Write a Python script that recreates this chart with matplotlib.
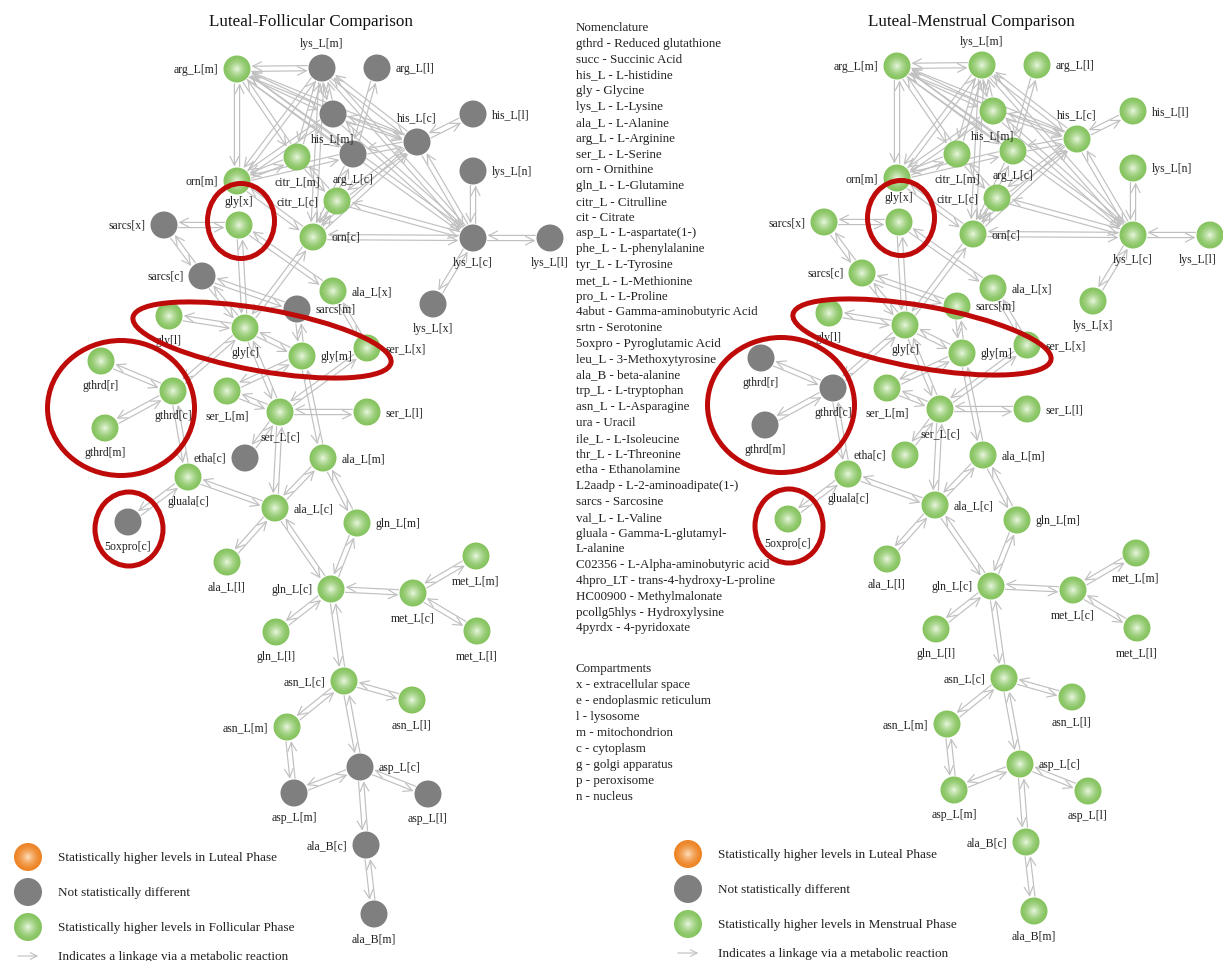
import numpy as np
import matplotlib
matplotlib.use("Agg")
import matplotlib.pyplot as plt
from matplotlib.patches import Circle, Ellipse, FancyArrowPatch

plt.rcParams['font.family'] = ['Liberation Serif', 'DejaVu Serif']

# ---------------- data ----------------
titles = ["Luteal-Follicular Comparison", "Luteal-Menstrual Comparison"]

nodes = ["arg_L[m]", "lys_L[m]", "arg_L[l]", "his_L[m]", "arg_L[c]", "his_L[c]", "his_L[l]",
         "lys_L[n]", "citr_L[m]", "orn[m]", "citr_L[c]", "gly[x]", "sarcs[x]", "orn[c]",
         "lys_L[c]", "lys_L[l]", "sarcs[c]", "ala_L[x]", "lys_L[x]", "sarcs[m]", "gly[l]",
         "gly[c]", "gly[m]", "ser_L[x]", "gthrd[r]", "gthrd[c]", "gthrd[m]", "ser_L[m]",
         "ser_L[c]", "ser_L[l]", "etha[c]", "gluala[c]", "ala_L[m]", "ala_L[c]", "gln_L[m]",
         "5oxpro[c]", "ala_L[l]", "gln_L[c]", "met_L[c]", "met_L[m]", "met_L[l]", "gln_L[l]",
         "asn_L[c]", "asn_L[l]", "asn_L[m]", "asp_L[c]", "asp_L[m]", "asp_L[l]", "ala_B[c]",
         "ala_B[m]"]

# status per comparison: "up" = higher in follicular/menstrual phase, "ns" = not different
grey_follicular = ["lys_L[m]", "arg_L[l]", "his_L[m]", "arg_L[c]", "his_L[c]", "his_L[l]",
                   "lys_L[n]", "lys_L[c]", "lys_L[l]", "sarcs[x]", "sarcs[c]", "sarcs[m]",
                   "lys_L[x]", "5oxpro[c]", "etha[c]", "asp_L[c]", "asp_L[m]", "asp_L[l]",
                   "ala_B[c]", "ala_B[m]"]
grey_menstrual = ["gthrd[r]", "gthrd[c]", "gthrd[m]"]
status_follicular = ["ns" if n in grey_follicular else "up" for n in nodes]
status_menstrual = ["ns" if n in grey_menstrual else "up" for n in nodes]

edges = [("arg_L[m]", "lys_L[m]"), ("arg_L[m]", "orn[m]"), ("arg_L[m]", "arg_L[c]"),
         ("arg_L[m]", "his_L[c]"), ("arg_L[m]", "lys_L[c]"), ("arg_L[m]", "citr_L[m]"),
         ("arg_L[m]", "his_L[m]"),
         ("lys_L[m]", "orn[m]"), ("lys_L[m]", "citr_L[m]"), ("lys_L[m]", "his_L[m]"),
         ("lys_L[m]", "his_L[c]"), ("lys_L[m]", "lys_L[c]"), ("lys_L[m]", "orn[c]"),
         ("arg_L[l]", "arg_L[c]"),
         ("his_L[m]", "orn[m]"), ("his_L[m]", "his_L[c]"), ("his_L[m]", "lys_L[c]"),
         ("his_L[c]", "his_L[l]"), ("his_L[c]", "arg_L[c]"), ("his_L[c]", "orn[c]"),
         ("his_L[c]", "lys_L[c]"), ("his_L[c]", "citr_L[c]"),
         ("lys_L[n]", "lys_L[c]"), ("lys_L[c]", "lys_L[l]"), ("lys_L[c]", "lys_L[x]"),
         ("lys_L[c]", "orn[c]"), ("lys_L[c]", "citr_L[c]"),
         ("citr_L[m]", "orn[m]"), ("citr_L[m]", "citr_L[c]"),
         ("citr_L[c]", "orn[c]"), ("arg_L[c]", "orn[c]"), ("arg_L[c]", "orn[m]"),
         ("orn[m]", "orn[c]"),
         ("sarcs[x]", "gly[x]"), ("sarcs[x]", "sarcs[c]"),
         ("gly[x]", "gly[c]"), ("gly[x]", "ala_L[x]"),
         ("sarcs[c]", "gly[c]"), ("sarcs[c]", "sarcs[m]"), ("sarcs[m]", "gly[m]"),
         ("orn[c]", "gly[c]"), ("ala_L[x]", "ser_L[x]"),
         ("gly[l]", "gly[c]"), ("gly[c]", "gly[m]"), ("gly[c]", "ser_L[c]"),
         ("gly[c]", "gthrd[c]"), ("gly[m]", "ser_L[m]"), ("ser_L[x]", "ser_L[c]"),
         ("gly[m]", "ala_L[m]"),
         ("gthrd[r]", "gthrd[c]"), ("gthrd[m]", "gthrd[c]"), ("gthrd[c]", "gluala[c]"),
         ("ser_L[m]", "ser_L[c]"), ("ser_L[c]", "ser_L[l]"), ("ser_L[c]", "etha[c]"),
         ("ser_L[c]", "ala_L[c]"),
         ("gluala[c]", "5oxpro[c]"), ("gluala[c]", "ala_L[c]"),
         ("ala_L[c]", "ala_L[m]"), ("ala_L[c]", "ala_L[l]"), ("ala_L[c]", "gln_L[c]"),
         ("ala_L[m]", "gln_L[m]"), ("gln_L[m]", "gln_L[c]"), ("gln_L[c]", "gln_L[l]"),
         ("gln_L[c]", "met_L[c]"), ("met_L[c]", "met_L[m]"), ("met_L[c]", "met_L[l]"),
         ("gln_L[c]", "asn_L[c]"), ("asn_L[c]", "asn_L[l]"), ("asn_L[c]", "asn_L[m]"),
         ("asn_L[c]", "asp_L[c]"), ("asn_L[m]", "asp_L[m]"), ("asp_L[m]", "asp_L[c]"),
         ("asp_L[c]", "asp_L[l]"), ("asp_L[c]", "ala_B[c]"), ("ala_B[c]", "ala_B[m]")]

nomenclature = ["Nomenclature", "gthrd - Reduced glutathione", "succ - Succinic Acid",
                "his_L - L-histidine", "gly - Glycine", "lys_L - L-Lysine", "ala_L - L-Alanine",
                "arg_L - L-Arginine", "ser_L - L-Serine", "orn - Ornithine",
                "gln_L - L-Glutamine", "citr_L - Citrulline", "cit - Citrate",
                "asp_L - L-aspartate(1-)", "phe_L - L-phenylalanine", "tyr_L - L-Tyrosine",
                "met_L - L-Methionine", "pro_L - L-Proline", "4abut - Gamma-aminobutyric Acid",
                "srtn - Serotonine", "5oxpro - Pyroglutamic Acid", "leu_L - 3-Methoxytyrosine",
                "ala_B - beta-alanine", "trp_L - L-tryptophan", "asn_L - L-Asparagine",
                "ura - Uracil", "ile_L - L-Isoleucine", "thr_L - L-Threonine",
                "etha - Ethanolamine", "L2aadp - L-2-aminoadipate(1-)", "sarcs - Sarcosine",
                "val_L - L-Valine", "gluala - Gamma-L-glutamyl-", "L-alanine",
                "C02356 - L-Alpha-aminobutyric acid", "4hpro_LT - trans-4-hydroxy-L-proline",
                "HC00900 - Methylmalonate", "pcollg5hlys - Hydroxylysine", "4pyrdx - 4-pyridoxate"]
compartments = ["Compartments", "x - extracellular space", "e - endoplasmic reticulum",
                "l - lysosome", "m - mitochondrion", "c - cytoplasm", "g - golgi apparatus",
                "p - peroxisome", "n - nucleus"]

legend_follicular = ["Statistically higher levels in Luteal Phase", "Not statistically different",
                     "Statistically higher levels in Follicular Phase",
                     "Indicates a linkage via a metabolic reaction"]
legend_menstrual = ["Statistically higher levels in Luteal Phase", "Not statistically different",
                    "Statistically higher levels in Menstrual Phase",
                    "Indicates a linkage via a metabolic reaction"]

# ---------------- layout (pixel positions of the left network) ----------------
layout = {
    "arg_L[m]": (237, 70, "l"), "lys_L[m]": (322, 69, "a"), "arg_L[l]": (377, 69, "r"),
    "his_L[m]": (333, 115, "b"), "arg_L[c]": (353, 155, "b"), "his_L[c]": (417, 143, "a"),
    "his_L[l]": (473, 115, "r"), "lys_L[n]": (473, 172, "r"), "citr_L[m]": (297, 158, "b"),
    "orn[m]": (237, 182, "l"), "citr_L[c]": (337, 202, "l"), "gly[x]": (239, 226, "a"),
    "sarcs[x]": (164, 226, "l"), "orn[c]": (313, 238, "r"), "lys_L[c]": (473, 239, "b"),
    "lys_L[l]": (550, 239, "b"), "sarcs[c]": (202, 277, "l"), "ala_L[x]": (333, 292, "r"),
    "lys_L[x]": (433, 305, "b"), "sarcs[m]": (297, 310, "r"), "gly[l]": (169, 317, "b"),
    "gly[c]": (245, 329, "b"), "gly[m]": (302, 357, "r"), "ser_L[x]": (367, 349, "r"),
    "gthrd[r]": (101, 362, "b"), "gthrd[c]": (173, 392, "b"), "gthrd[m]": (105, 429, "b"),
    "ser_L[m]": (227, 392, "b"), "ser_L[c]": (280, 413, "b"), "ser_L[l]": (367, 413, "r"),
    "etha[c]": (245, 459, "l"), "gluala[c]": (188, 478, "b"), "ala_L[m]": (323, 459, "r"),
    "ala_L[c]": (275, 509, "r"), "gln_L[m]": (357, 524, "r"), "5oxpro[c]": (128, 523, "b"),
    "ala_L[l]": (227, 563, "b"), "gln_L[c]": (331, 590, "l"), "met_L[c]": (413, 594, "b"),
    "met_L[m]": (476, 557, "b"), "met_L[l]": (477, 632, "b"), "gln_L[l]": (276, 633, "b"),
    "asn_L[c]": (344, 682, "l"), "asn_L[l]": (412, 701, "b"), "asn_L[m]": (287, 728, "l"),
    "asp_L[c]": (360, 768, "r"), "asp_L[m]": (294, 794, "b"), "asp_L[l]": (428, 795, "b"),
    "ala_B[c]": (366, 846, "l"), "ala_B[m]": (374, 915, "b"),
}
panel_offsets = [(0, 0), (660, -3)]
R = 13.5

GREEN_EDGE = np.array([0.53, 0.77, 0.38])
GREEN_CENTER = np.array([0.94, 0.98, 0.91])
ORANGE_EDGE = np.array([0.93, 0.52, 0.15])
ORANGE_CENTER = np.array([1.0, 0.90, 0.78])
GREY = "#7f7f7f"
EDGE_COL = "#c0c0c0"
RED = "#bf0a0a"

fig = plt.figure(figsize=(12.23, 9.62), dpi=100)
ax = fig.add_axes([0, 0, 1, 1])
ax.set_xlim(0, 1223)
ax.set_ylim(962, 0)
ax.axis("off")


def sphere(x, y, r, edge, center, z=5):
    steps = 14
    for i in range(steps):
        t = 1 - i / steps
        w = (1 - t) ** 1.6
        col = edge + (center - edge) * w
        ax.add_patch(Circle((x, y), r * t, facecolor=col, edgecolor="none", zorder=z))


def draw_node(x, y, kind):
    if kind == "up":
        sphere(x, y, R, GREEN_EDGE, GREEN_CENTER)
    else:
        ax.add_patch(Circle((x, y), R, facecolor=GREY, edgecolor="none", zorder=5))


def draw_edge(p1, p2):
    p1 = np.array(p1, float)
    p2 = np.array(p2, float)
    d = p2 - p1
    L = np.hypot(*d)
    u = d / L
    n = np.array([-u[1], u[0]])
    off = 2.6
    for sgn, (a, b) in ((1, (p1, p2)), (-1, (p2, p1))):
        uu = (b - a) / L
        s = a + uu * (R + 1) + n * off * sgn
        e = b - uu * (R + 1) + n * off * sgn
        ax.add_patch(FancyArrowPatch(s, e, arrowstyle="->,head_length=0.7,head_width=0.35",
                                     mutation_scale=9, color=EDGE_COL, lw=0.85,
                                     shrinkA=0, shrinkB=0, zorder=2))


label_kw = dict(fontsize=8.5, color="#222222", zorder=7)
for panel, (status, off) in enumerate(zip([status_follicular, status_menstrual], panel_offsets)):
    ox, oy = off
    pos = {k: (v[0] + ox, v[1] + oy) for k, v in layout.items()}
    for a, b in edges:
        draw_edge(pos[a], pos[b])
    for name, st in zip(nodes, status):
        x, y = pos[name]
        draw_node(x, y, st)
        where = layout[name][2]
        if where == "l":
            ax.text(x - R - 5, y, name, ha="right", va="center", **label_kw)
        elif where == "r":
            ax.text(x + R + 5, y, name, ha="left", va="center", **label_kw)
        elif where == "a":
            ax.text(x, y - R - 11, name, ha="center", va="center", **label_kw)
        else:
            ax.text(min(x, 1198), y + R + 11, name, ha="center", va="center", **label_kw)
    ax.text(311 + ox, 22, titles[panel], ha="center", va="center", fontsize=12.3, color="#111111")

    # red highlight ellipses
    for (cx, cy, w, h, ang) in [(241, 222, 67, 75, 0), (262, 341, 262, 62, 10),
                                (121, 409, 147, 135, 0), (129, 530, 68, 74, 0)]:
        ax.add_patch(Ellipse((cx + ox, cy + oy), w, h, angle=ang, fill=False,
                             edgecolor=RED, lw=3.6, zorder=9))

    # legend
    leg = legend_follicular if panel == 0 else legend_menstrual
    lx = 28 + ox
    ly = [858, 893, 928, 957]
    ly = [v + oy for v in ly]
    sphere(lx, ly[0], 14, ORANGE_EDGE, ORANGE_CENTER)
    ax.add_patch(Circle((lx, ly[1]), 14, facecolor=GREY, edgecolor="none", zorder=5))
    sphere(lx, ly[2], 14, GREEN_EDGE, GREEN_CENTER)
    ax.add_patch(FancyArrowPatch((lx - 13, ly[3]), (lx + 13, ly[3]),
                                 arrowstyle="->,head_length=0.6,head_width=0.3",
                                 mutation_scale=8, color=EDGE_COL, lw=0.8, zorder=2))
    for txt, yy in zip(leg, ly):
        ax.text(58 + ox, yy, txt, ha="left", va="center", fontsize=9.5, color="#222222")

# nomenclature column
for i, txt in enumerate(nomenclature):
    ax.text(576, 28 + i * 15.8, txt, ha="left", va="center", fontsize=9.4, color="#222222")
for i, txt in enumerate(compartments):
    ax.text(576, 669 + i * 16, txt, ha="left", va="center", fontsize=9.4, color="#222222")

fig.savefig("out.png", dpi=100, facecolor="white")
